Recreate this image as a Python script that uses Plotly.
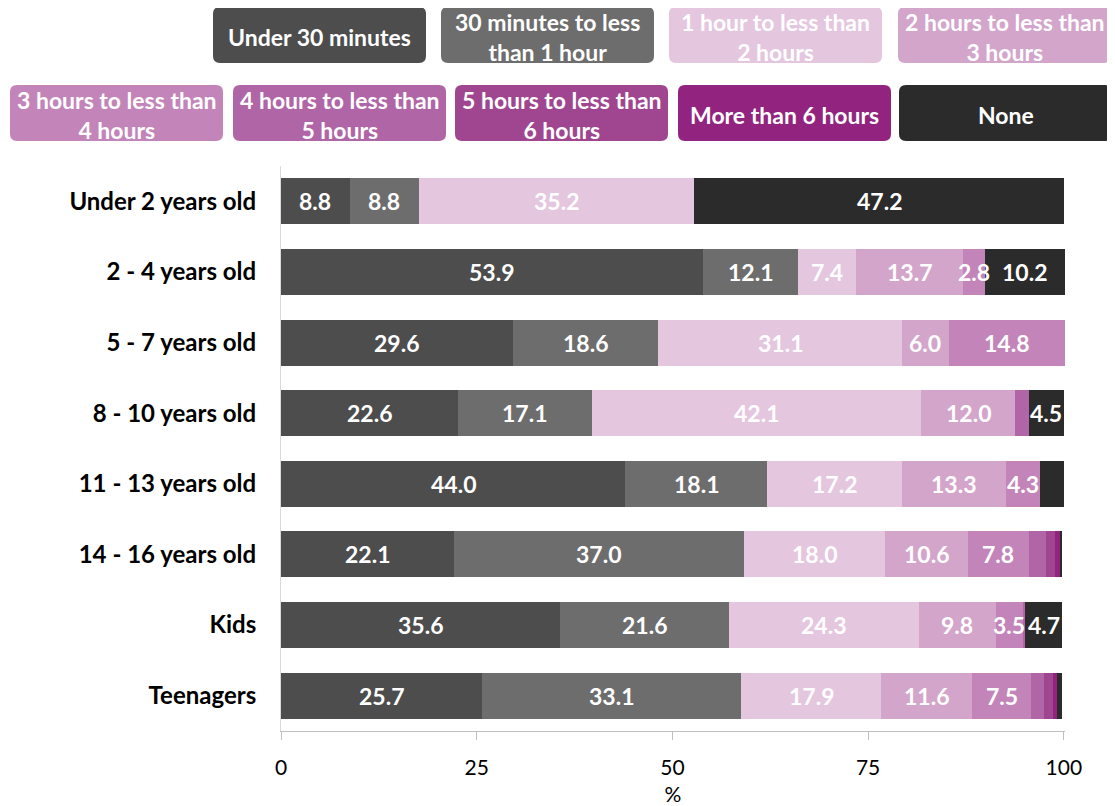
import plotly.graph_objects as go

# ---------------- data ----------------
CATEGORIES = ["Under 2 years old", "2 - 4 years old", "5 - 7 years old", "8 - 10 years old",
              "11 - 13 years old", "14 - 16 years old", "Kids", "Teenagers"]

SERIES = ["Under 30 minutes", "30 minutes to less than 1 hour", "1 hour to less than 2 hours",
          "2 hours to less than 3 hours", "3 hours to less than 4 hours", "4 hours to less than 5 hours",
          "5 hours to less than 6 hours", "More than 6 hours", "None"]

LEGEND_LABELS = ["Under 30 minutes", "30 minutes to less<br>than 1 hour", "1 hour to less than<br>2 hours",
                 "2 hours to less than<br>3 hours", "3 hours to less than<br>4 hours",
                 "4 hours to less than<br>5 hours", "5 hours to less than<br>6 hours",
                 "More than 6 hours", "None"]

under_30 = [8.8, 53.9, 29.6, 22.6, 44.0, 22.1, 35.6, 25.7]
min30_1h = [8.8, 12.1, 18.6, 17.1, 18.1, 37.0, 21.6, 33.1]
h1_2 = [35.2, 7.4, 31.1, 42.1, 17.2, 18.0, 24.3, 17.9]
h2_3 = [0, 13.7, 6.0, 12.0, 13.3, 10.6, 9.8, 11.6]
h3_4 = [0, 2.8, 14.8, 0, 4.3, 7.8, 3.5, 7.5]
h4_5 = [0, 0, 0, 1.7, 0, 2.2, 0.3, 1.7]
h5_6 = [0, 0, 0, 0, 0, 1.2, 0, 1.1]
h6_plus = [0, 0, 0, 0, 0, 0.55, 0, 0.5]
none = [47.2, 10.2, 0, 4.5, 3.1, 0.3, 4.7, 0.7]

VALUES = [under_30, min30_1h, h1_2, h2_3, h3_4, h4_5, h5_6, h6_plus, none]

# labels that the original chart leaves out (segment too narrow)
HIDDEN_LABELS = [("11 - 13 years old", "None")]
LABEL_MIN = 2.5

COLORS = ["#4D4D4D", "#6D6D6D", "#E4C6DF", "#D3A5CB", "#C385B9",
          "#B066A6", "#A04690", "#92237F", "#2B2B2B"]

X_TICKS = [0, 25, 50, 75, 100]

FONT = "Lato"

# ---------------- layout geometry ----------------
# page body has an 8px margin: figure is placed at (8, 8) of the window
OFF = 8
W, H = 1115 - OFF, 806 - OFF
ML, MR, MT, MB = 281 - OFF, 50, 166 - OFF, 75


def px_x(px):
    return (px - OFF - ML) / (W - ML - MR)


def px_y(py):
    return (H - MB - (py - OFF)) / (H - MT - MB)


fig = go.Figure()
annotations = []

cum = [0.0] * len(CATEGORIES)
for name, vals, col in zip(SERIES, VALUES, COLORS):
    fig.add_trace(go.Bar(
        y=CATEGORIES, x=vals, name=name, orientation="h",
        marker=dict(color=col, line=dict(width=0)),
        showlegend=False,
    ))
    for i, (cat, v) in enumerate(zip(CATEGORIES, vals)):
        if v >= LABEL_MIN and (cat, name) not in HIDDEN_LABELS:
            annotations.append(dict(
                x=cum[i] + v / 2, y=cat, xref="x", yref="y",
                text=f"{v:.1f}", showarrow=False, xanchor="center", yanchor="middle",
                font=dict(family=FONT, size=23, color="white", weight="bold"),
            ))
        cum[i] += v

fig.update_layout(
    width=W, height=H,
    barmode="stack", bargap=0.35,
    paper_bgcolor="white", plot_bgcolor="white",
    margin=dict(l=ML, r=MR, t=MT, b=MB),
    font=dict(family=FONT, color="black"),
    showlegend=False,
    xaxis=dict(
        range=[0, 100.15], tickvals=X_TICKS, ticktext=[str(t) for t in X_TICKS],
        showgrid=False, zeroline=False, automargin=False,
        showline=True, linecolor="#BFBFBF", linewidth=1,
        ticks="outside", ticklen=8, tickcolor="#BFBFBF",
        tickfont=dict(family=FONT, size=21, color="black"),
        ticklabelstandoff=10,
        title=dict(text="%", font=dict(family=FONT, size=21, color="black"), standoff=14),
    ),
    yaxis=dict(
        categoryorder="array", categoryarray=CATEGORIES, autorange="reversed",
        showgrid=False, zeroline=False, automargin=False,
        showline=True, linecolor="#D9D9D9", linewidth=1,
        ticks="", ticklabelstandoff=19,
        tickfont=dict(family=FONT, size=24, color="black", weight="bold"),
    ),
)

# ---------------- custom legend (rounded boxes) ----------------
box_rows = [
    (7, 63, [213, 441, 669, 898]),
    (85, 141, [10, 233, 455, 678, 899]),
]
BOX_W = 213
R = 7
shapes = []
idx = 0
for top, bottom, lefts in box_rows:
    for left in lefts:
        right = left + BOX_W
        pts = [
            ("M", left + R, top), ("L", right - R, top), ("Q", right, top, right, top + R),
            ("L", right, bottom - R), ("Q", right, bottom, right - R, bottom),
            ("L", left + R, bottom), ("Q", left, bottom, left, bottom - R),
            ("L", left, top + R), ("Q", left, top, left + R, top),
        ]
        path = ""
        for p in pts:
            cmd = p[0]
            coords = p[1:]
            seg = cmd + " " + " ".join(
                f"{px_x(coords[i]):.5f},{px_y(coords[i + 1]):.5f}" for i in range(0, len(coords), 2))
            path += seg + " "
        path += "Z"
        shapes.append(dict(type="path", path=path, xref="paper", yref="paper",
                           fillcolor=COLORS[idx], line=dict(width=0), layer="above"))
        annotations.append(dict(
            x=px_x((left + right) / 2), y=px_y((top + bottom) / 2 + 2), xref="paper", yref="paper",
            text=LEGEND_LABELS[idx], showarrow=False, xanchor="center", yanchor="middle",
            align="center", borderpad=0,
            font=dict(family=FONT, size=23, color="white", weight="bold"),
        ))
        idx += 1

fig.update_layout(shapes=shapes, annotations=annotations)

fig.write_html("out.html")
